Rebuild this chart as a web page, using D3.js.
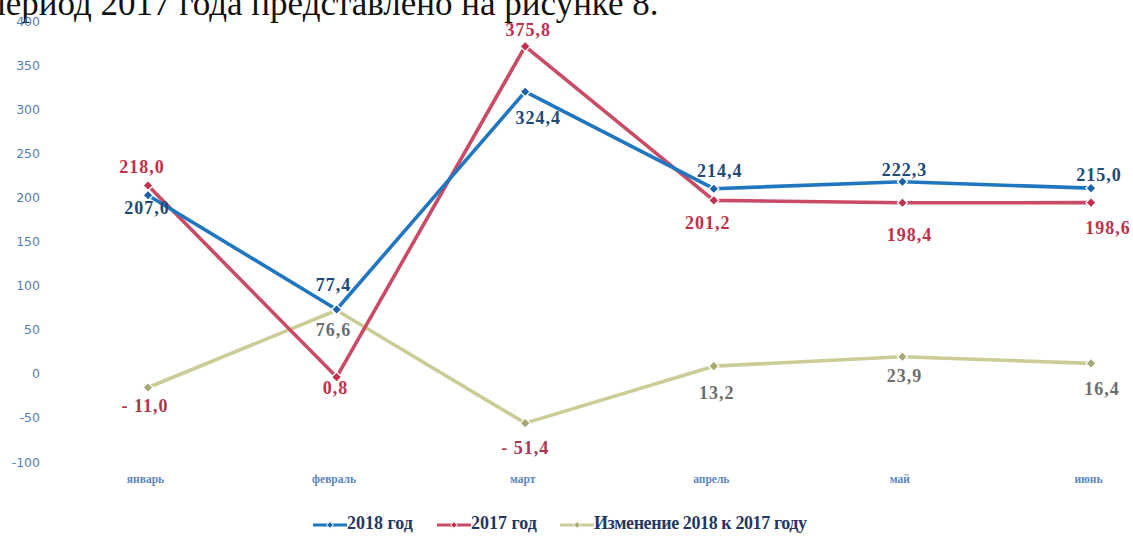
<!DOCTYPE html>
<html><head><meta charset="utf-8">
<script src="https://cdn.jsdelivr.net/npm/d3@7"></script>
<style>html,body{margin:0;padding:0;background:#fff;}svg{display:block;}</style>
</head><body>
<svg id="c" width="1133" height="536"></svg>
<script>
const months = ["январь","февраль","март","апрель","май","июнь"];
const s2018 = [207.0, 77.4, 324.4, 214.4, 222.3, 215.0];
const s2017 = [218.0, 0.8, 375.8, 201.2, 198.4, 198.6];
const sChange = [-11.0, 76.6, -51.4, 13.2, 23.9, 16.4];
const yTicks = [-100, -50, 0, 50, 100, 150, 200, 250, 300, 350, 400];
const seriesNames = ["2018 год", "2017 год", "Изменение 2018 к 2017 году"];
const headerText = "период 2017 года представлено на рисунке 8.";

const svg = d3.select("#c");
const x = d3.scalePoint().domain(months).range([148, 1091]);
const y = d3.scaleLinear().domain([-100, 400]).range([466, 25]);
const fmt = v => (v < 0 ? "- " : "") + d3.format(".1f")(Math.abs(v)).replace(".", ",");

// header text from the scanned page (cut at top)
svg.append("text").attr("x", -13).attr("y", 15)
  .attr("font-family", "Liberation Serif").attr("font-size", 35).attr("fill", "#111")
  .text(headerText);

// y axis
const yAxis = svg.append("g").attr("transform", "translate(40,0)")
  .call(d3.axisLeft(y).tickValues(yTicks).tickSize(0).tickPadding(0).tickFormat(d => d));
yAxis.select(".domain").remove();
yAxis.selectAll("text").attr("font-family", "DejaVu Sans").attr("font-size", 12.5)
  .attr("fill", "#4f7fb8").attr("dy", "0em");

// x axis
const xAxis = svg.append("g").attr("transform", "translate(-3,475)")
  .call(d3.axisBottom(x).tickSize(0).tickPadding(0));
xAxis.select(".domain").remove();
xAxis.selectAll("text").attr("font-family", "Liberation Serif").attr("font-weight", "bold")
  .attr("font-size", 11.5).attr("fill", "#5a86bd");

const series = [
  {name: seriesNames[0], vals: s2018, line: "#2176c0", mark: "#1c62a8"},
  {name: seriesNames[1], vals: s2017, line: "#c94b66", mark: "#c2304d"},
  {name: seriesNames[2], vals: sChange, line: "#cccc96", mark: "#a9a874"}
];
const line = d3.line().x((d, i) => x(months[i])).y(d => y(d));
const diamond = d3.symbol().type(d3.symbolDiamond2).size(64);

// draw change first (bottom), then 2017, then 2018
[2, 1, 0].forEach(k => {
  const s = series[k];
  svg.append("path").datum(s.vals).attr("d", line).attr("fill", "none")
    .attr("stroke", s.line).attr("stroke-width", 3.6).attr("stroke-linejoin", "round");
  svg.append("g").selectAll("path").data(s.vals).join("path")
    .attr("transform", (d, i) => `translate(${x(months[i])},${y(d)})`)
    .attr("d", diamond).attr("fill", s.mark).attr("stroke", "#fff").attr("stroke-width", 1.3);
});

// data labels: offsets (dx, dy) relative to point centre
const off2018 = [[-1, 15], [-3, -23], [13, 28], [6, -16], [2, -10], [8, -11]];
const off2017 = [[-6, -17], [-1, 13], [3, -14], [-6, 25], [7, 34], [17, 27]];
const offChange = [[-3, 20], [-3, 22], [0, 27], [3, 29], [2, 21], [11, 28]];
const labelColors = ["#1d4a78", "#c0304a", "#6e6e6e"];
const offs = [off2018, off2017, offChange];
series.forEach((s, k) => {
  svg.append("g").selectAll("text").data(s.vals).join("text")
    .attr("x", (d, i) => x(months[i]) + offs[k][i][0])
    .attr("y", (d, i) => y(d) + offs[k][i][1])
    .attr("text-anchor", "middle").attr("dominant-baseline", "middle")
    .attr("font-family", "Liberation Serif").attr("font-weight", "bold")
    .attr("font-size", 18).attr("letter-spacing", 1)
    .attr("fill", d => (k === 2 && d < 0) ? "#a8384c" : labelColors[k])
    .text(d => fmt(d));
});

// legend
const legX = [313, 437, 560];
const lg = svg.append("g");
series.forEach((s, k) => {
  const g = lg.append("g").attr("transform", `translate(${legX[k]},525)`);
  g.append("line").attr("x1", 0).attr("x2", 34).attr("stroke", s.line).attr("stroke-width", 3.2);
  g.append("path").attr("transform", "translate(17,0)").attr("d", d3.symbol().type(d3.symbolDiamond2).size(28))
    .attr("fill", s.mark).attr("stroke", "#fff").attr("stroke-width", 1);
  g.append("text").attr("x", 34).attr("y", 0).attr("dominant-baseline", "middle")
    .attr("font-family", "Liberation Serif").attr("font-weight", "bold").attr("font-size", 18)
    .attr("textLength", k === 2 ? 213 : null)
    .attr("fill", "#1f3864").text(s.name);
});
</script>
</body></html>
